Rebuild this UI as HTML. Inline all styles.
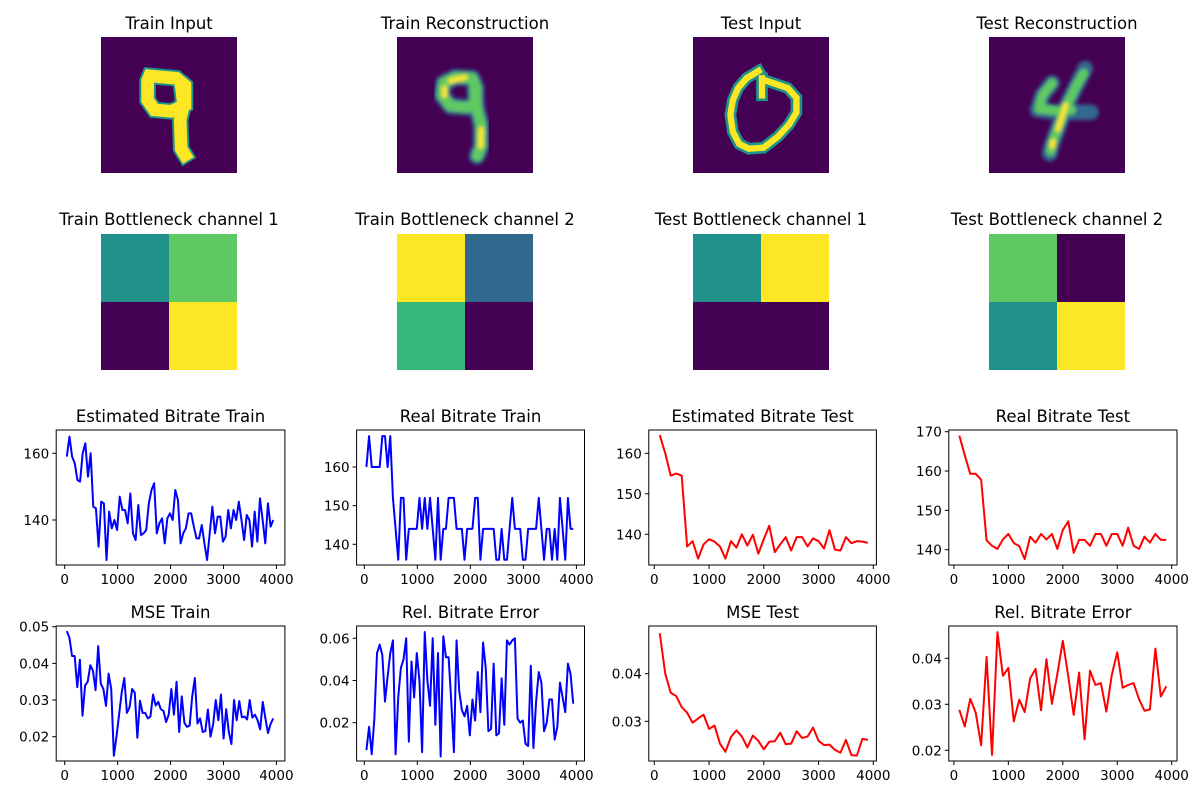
<!DOCTYPE html>
<html><head><meta charset="utf-8"><style>
body{margin:0;background:#fff;}
svg text{font-family:"DejaVu Sans","Liberation Sans",sans-serif;fill:#000;}
</style></head><body>
<svg id="fig" width="1200" height="800" viewBox="0 0 1200 800" xmlns="http://www.w3.org/2000/svg">
<defs>
<filter id="bl" x="-20%" y="-20%" width="140%" height="140%"><feGaussianBlur stdDeviation="0.4"/></filter>
</defs>
<rect width="1200" height="800" fill="#fff"/>
<g>
<text x="169" y="29" font-size="16.5" text-anchor="middle">Train Input</text>
<svg x="101" y="37" width="136" height="136" viewBox="0 0 28 28">
<rect width="28" height="28" fill="#440154"/>
<g fill="none" stroke-linejoin="miter" stroke-linecap="square">
<path d="M10,8 L15.5,8.5 L17.3,10 L17.3,14 L14.5,15.3 L11,15 L9.6,13 L9.6,9 Z M16.5,10 L17,14 L16.3,17 L16.5,23 L17.3,24.3" stroke="#21918c" stroke-width="3.4"/>
<path d="M10,8 L15.5,8.5 L17.3,10 L17.3,14 L14.5,15.3 L11,15 L9.6,13 L9.6,9 Z M16.5,10 L17,14 L16.3,17 L16.5,23 L17.3,24.3" stroke="#fde725" stroke-width="2.6"/>
</g></svg>
</g>
<g>
<text x="465" y="29" font-size="16.5" text-anchor="middle">Train Reconstruction</text>
<svg x="397" y="37" width="136" height="136" viewBox="0 0 28 28">
<rect width="28" height="28" fill="#440154"/>
<g fill="none" stroke-linejoin="round" stroke-linecap="round" filter="url(#bl)">
<path d="M12,8.3 L15.5,8.5 L16.3,10.5 L16.3,13.5 L14.5,14.5 L11,14.2 L9.3,12 L9.6,9.5 Z M16,11 L16.5,15 L17.3,18 L17.3,22.5 L16.5,24.5" stroke="#31688e" stroke-width="3.4"/>
<path d="M12,8.3 L15.5,8.5 L16.3,10.5 L16.3,13.5 L14.5,14.5 L11,14.2 L9.3,12 L9.6,9.5 Z M16,11 L16.5,15 L17.3,18 L17.3,22.5 L16.5,24.5" stroke="#5ec962" stroke-width="2.2"/>
<path d="M11,9 L14,8.3 M9.8,10.5 L9.8,12 M17.3,19 L17.2,22.5" stroke="#fde725" stroke-width="1.1"/>
</g></svg>
</g>
<g>
<text x="761" y="29" font-size="16.5" text-anchor="middle">Test Input</text>
<svg x="693" y="37" width="136" height="136" viewBox="0 0 28 28">
<rect width="28" height="28" fill="#440154"/>
<g fill="none" stroke-linejoin="miter" stroke-linecap="square">
<path d="M13.5,7 L11,8.5 L9.3,10.5 L8.2,13 L7.7,16 L8.2,19.5 L9.5,22 L11.5,23 L14.5,22.8 L17.5,20.5 L19.8,18 L21.3,15.5 L21.3,12.5 L19.5,10.5 L16.5,9.5 L14.5,8.8 M14.2,8.5 L14.2,12" stroke="#21918c" stroke-width="2.4"/>
<path d="M13.5,7 L11,8.5 L9.3,10.5 L8.2,13 L7.7,16 L8.2,19.5 L9.5,22 L11.5,23 L14.5,22.8 L17.5,20.5 L19.8,18 L21.3,15.5 L21.3,12.5 L19.5,10.5 L16.5,9.5 L14.5,8.8 M14.2,8.5 L14.2,12" stroke="#fde725" stroke-width="1.3"/>
</g></svg>
</g>
<g>
<text x="1057" y="29" font-size="16.5" text-anchor="middle">Test Reconstruction</text>
<svg x="989" y="37" width="136" height="136" viewBox="0 0 28 28">
<rect width="28" height="28" fill="#440154"/>
<g fill="none" stroke-linejoin="round" stroke-linecap="round" filter="url(#bl)">
<path d="M13,9.5 L11,12 L10,15 L14,15.5 L21,15.5 M19.8,6.5 L18,10 L16,14 L14.5,18 L13,22 L12.5,24" stroke="#31688e" stroke-width="3.2"/>
<path d="M13,9.5 L11,12 L10.3,14.8 L14,15.2 L17,15 M19.5,7.5 L18,10 L16,14 L14.5,18 L13,22 L12.7,23.5" stroke="#5ec962" stroke-width="1.9"/>
<path d="M15.8,14 L15,16.5 L14.2,19 M13.2,21.5 L13,22.5" stroke="#fde725" stroke-width="1.1"/>
</g></svg>
</g>
<g id="bn"></g>
<g id="charts"></g>
</svg>
<script>
const NS='http://www.w3.org/2000/svg';
function mk(tag,attrs,parent){const e=document.createElementNS(NS,tag);for(const k in attrs)e.setAttribute(k,attrs[k]);parent.appendChild(e);return e;}

const bnTitles=['Train Bottleneck channel 1','Train Bottleneck channel 2','Test Bottleneck channel 1','Test Bottleneck channel 2'];
const bnColors=[['#21918c','#5ec962','#440154','#fde725'],['#fde725','#31688e','#35b779','#440154'],['#21918c','#fde725','#440154','#440154'],['#5ec962','#440154','#21918c','#fde725']];
const bnCx=[169,465,761,1057];
const bn=document.getElementById('bn');
bnTitles.forEach((t,i)=>{
  const g=mk('g',{},bn);
  
  
  const tt=mk('text',{x:bnCx[i],y:225,'font-size':16.5,'text-anchor':'middle'},g);tt.textContent=t;
  
  
  bnColors[i].forEach((c,j)=>{
    const r=mk('rect',{x:bnCx[i]-68+(j%2)*68,y:234+Math.floor(j/2)*68,width:68,height:68,fill:c},g);
    
    
  });
});

const estTrain=[159,165,159,157,152,151.5,160,163,153,160,144,143.5,132,145.5,145,128,142.5,137.5,140,137,147,143,143,139,148,136,134,144.5,135.5,136,137,145,149,151,136,139,140.5,133,140.5,142,140,149,146,133,136,137.5,142,142,138,134.5,134.5,138.5,133,128,136,144,136,141,141,133.5,135,143,137.5,143,140,145.5,140,134,141.5,140,132,142.5,133.5,146.5,140,133,145,138,140];
const realTrain=[160,168,160,160,160,160,168,168,160,168,152,144,136,152,152,136,144,144,144,144,152,144,152,144,152,144,136,152,136,144,144,152,152,152,144,144,144,136,144,144,144,152,152,136,144,144,144,144,144,136,136,144,136,136,144,152,144,144,144,136,136,144,144,144,144,152,144,136,144,144,136,144,136,152,144,136,152,144,144];
const estTest=[164.5,160,154.5,155,154.5,137,138.3,134,137.5,138.8,138.2,137,134,138.3,136.7,140,137.2,139.9,135.2,138.8,142.1,135.6,137.5,139.3,136,139.3,139.3,137,139,138.3,136.5,141,136.2,136,139.3,137.8,138.3,138.2,137.9];
const realTest=[169,164,159.3,159.3,157.8,142.4,141,140.2,142.6,144,141.7,140.9,137.6,143.3,141.8,144,142.6,144,140.2,145,147.2,139.2,142.5,142.5,141,144,144,141,144,144,141,145.6,141,140.2,143.3,141.8,144,142.5,142.5];
const mseTrain=[.0488,.047,.042,.042,.0335,.041,.0257,.034,.035,.0395,.038,.0327,.0447,.0345,.033,.0284,.0372,.033,.0148,.020,.026,.032,.036,.0265,.028,.033,.032,.0197,.0298,.0265,.0265,.025,.0255,.0315,.0285,.0295,.0275,.027,.024,.026,.033,.026,.035,.0213,.031,.0238,.0227,.023,.031,.036,.0236,.025,.0213,.0215,.0274,.020,.0233,.030,.0245,.0315,.0195,.0275,.0213,.018,.030,.0245,.0297,.0253,.0255,.0247,.030,.0252,.026,.0245,.022,.0295,.025,.021,.0235,.025];
const relTrain=[.007,.018,.005,.022,.053,.057,.052,.030,.042,.053,.059,.005,.032,.046,.050,.060,.011,.049,.032,.053,.040,.006,.063,.040,.028,.060,.019,.053,.004,.061,.051,.051,.030,.006,.059,.035,.026,.023,.028,.014,.031,.021,.044,.025,.058,.046,.016,.017,.048,.014,.015,.041,.019,.059,.057,.059,.060,.022,.020,.021,.010,.009,.047,.008,.030,.044,.039,.016,.020,.031,.031,.012,.018,.039,.032,.025,.048,.043,.029];
const mseTest=[.0485,.040,.036,.0353,.033,.0318,.0297,.0306,.0314,.0284,.0291,.0253,.0236,.0267,.0281,.0268,.0245,.0270,.0259,.0241,.0257,.0258,.0276,.0252,.0253,.0279,.0265,.0268,.0287,.0259,.0250,.0251,.0240,.0234,.0261,.0229,.0228,.0263,.0261];
const relTest=[.0288,.0252,.0312,.0282,.0211,.0403,.019,.0457,.0362,.0379,.0263,.0310,.0283,.0356,.0377,.0287,.0398,.0301,.0366,.0438,.0361,.0277,.0369,.0224,.0373,.0342,.0346,.0284,.0364,.0413,.0336,.0342,.0346,.0311,.0286,.0289,.0421,.0317,.0339];
const xTicks=[0,1000,2000,3000,4000];
const yTicksBit=[140,160];
const yTicksReal=[140,150,160];
const yTicksEstTest=[140,150,160];
const yTicksRealTest=[140,150,160,170];
const yTicksMse=[0.02,0.03,0.04,0.05];
const yTicksRel=[0.02,0.04,0.06];
const yTicksMseTest=[0.03,0.04];
const yTicksRelTest=[0.02,0.03,0.04];

const charts=[
 ['Estimated Bitrate Train',estTrain,40,3940,yTicksBit,'#0000ff',56.2,284.9,430,565,64.7,276.4,160,453.3,140,520,0],
 ['Real Bitrate Train',realTrain,40,3940,yTicksReal,'#0000ff',356.6,584.5,430,565,364.3,576.4,160,467,140,544.3,0],
 ['Estimated Bitrate Test',estTest,100,3900,yTicksEstTest,'#ff0000',648.8,876.4,430,565,654.3,873.3,160,453.3,140,534.3,0],
 ['Real Bitrate Test',realTest,100,3900,yTicksRealTest,'#ff0000',948.8,1177,430,565,953.9,1171.7,170,431.7,140,549.7,0],
 ['MSE Train',mseTrain,40,3940,yTicksMse,'#0000ff',56.2,284.9,626,761,64.7,276.4,0.05,626.7,0.02,736.7,2],
 ['Rel. Bitrate Error',relTrain,40,3940,yTicksRel,'#0000ff',356.6,584.5,626,761,364.3,576.4,0.06,638.3,0.02,722.7,2],
 ['MSE Test',mseTest,100,3900,yTicksMseTest,'#ff0000',648.8,876.4,626,761,654.3,873.3,0.04,673.7,0.03,721.3,2],
 ['Rel. Bitrate Error',relTest,100,3900,yTicksRelTest,'#ff0000',948.8,1177,626,761,953.9,1171.7,0.04,658.3,0.02,750.3,2]
];
const cg=document.getElementById('charts');
charts.forEach((c,ci)=>{
  const [title,data,xs,xe,yt,col,L,R,T,B,x0,x4,yA,yApx,yB,yBpx,fmt]=c;
  const X=v=>x0+(x4-x0)*v/4000;
  const Y=v=>yBpx+(yApx-yBpx)*(v-yB)/(yA-yB);
  const g=mk('g',{},cg);
  
  
  const tt=mk('text',{x:(L+R)/2,y:T-8,'font-size':16.5,'text-anchor':'middle'},g);tt.textContent=title;
  
  
  const pts=data.map((v,i)=>X(xs+(xe-xs)*i/(data.length-1)).toFixed(2)+','+Y(v).toFixed(2)).join(' ');
  const pl=mk('polyline',{points:pts,fill:'none',stroke:col,'stroke-width':2,'stroke-linejoin':'round'},g);
  
  
  const fr=mk('rect',{x:L,y:T,width:R-L,height:B-T,fill:'none',stroke:'#000','stroke-width':1},g);
  
  
  xTicks.forEach(t=>{
    mk('line',{x1:X(t),x2:X(t),y1:B,y2:B+4,stroke:'#000','stroke-width':1},g);
    const l=mk('text',{x:X(t),y:B+19,'font-size':13.5,'text-anchor':'middle'},g);l.textContent=t;
    
    
  });
  yt.forEach(t=>{
    mk('line',{x1:L-4,x2:L,y1:Y(t),y2:Y(t),stroke:'#000','stroke-width':1},g);
    const l=mk('text',{x:L-7,y:Y(t)+5,'font-size':13.5,'text-anchor':'end'},g);l.textContent=t.toFixed(fmt);
    
    
  });
});
</script>
</body></html>
